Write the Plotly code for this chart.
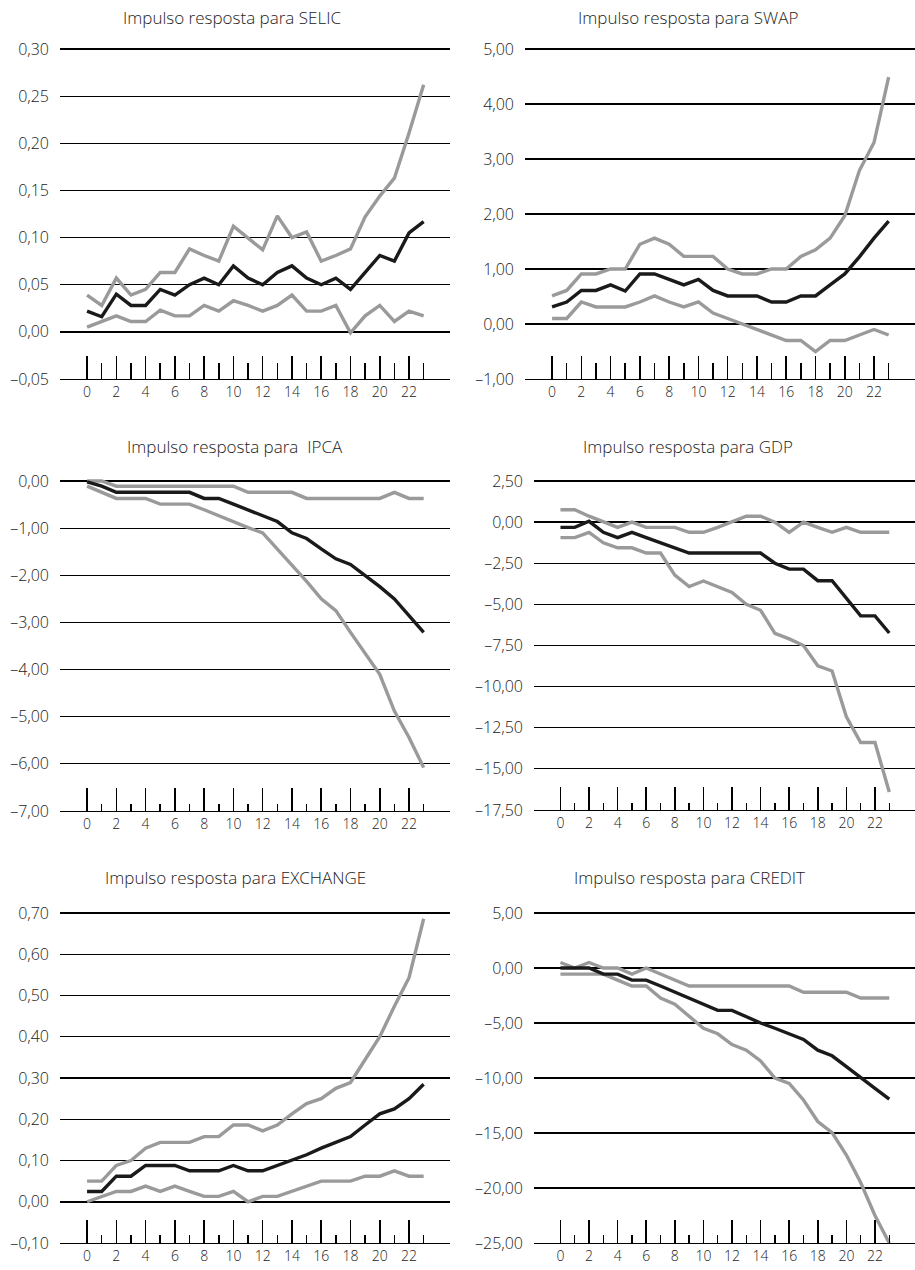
import plotly.graph_objects as go

periods = list(range(24))

# ---- SELIC ----
selic_mid = [0.022, 0.016, 0.040, 0.028, 0.028, 0.045, 0.039, 0.050, 0.057, 0.050, 0.070, 0.057,
             0.050, 0.063, 0.070, 0.057, 0.050, 0.057, 0.045, 0.063, 0.081, 0.075, 0.105, 0.117]
selic_up = [0.039, 0.028, 0.057, 0.039, 0.045, 0.063, 0.063, 0.088, 0.081, 0.075, 0.112, 0.100,
            0.087, 0.123, 0.100, 0.106, 0.075, 0.081, 0.088, 0.122, 0.144, 0.163, 0.211, 0.262]
selic_lo = [0.005, 0.011, 0.017, 0.011, 0.011, 0.023, 0.017, 0.017, 0.028, 0.022, 0.033, 0.028,
            0.022, 0.028, 0.039, 0.022, 0.022, 0.028, -0.001, 0.017, 0.028, 0.011, 0.022, 0.017]
selic_ticks = [-0.05, 0.0, 0.05, 0.10, 0.15, 0.20, 0.25, 0.30]
selic_ticktext = ["–0,05", "0,00", "0,05", "0,10", "0,15", "0,20", "0,25", "0,30"]

# ---- SWAP ----
swap_mid = [0.31, 0.40, 0.61, 0.61, 0.71, 0.60, 0.91, 0.91, 0.81, 0.71, 0.81, 0.61,
            0.51, 0.51, 0.51, 0.40, 0.40, 0.51, 0.51, 0.71, 0.91, 1.22, 1.56, 1.87]
swap_up = [0.51, 0.61, 0.91, 0.91, 1.00, 1.00, 1.45, 1.56, 1.45, 1.23, 1.23, 1.23,
           1.00, 0.91, 0.91, 1.00, 1.00, 1.23, 1.35, 1.56, 1.97, 2.79, 3.30, 4.49]
swap_lo = [0.10, 0.10, 0.40, 0.31, 0.31, 0.31, 0.40, 0.51, 0.40, 0.31, 0.40, 0.20,
           0.10, 0.00, -0.10, -0.20, -0.30, -0.30, -0.50, -0.30, -0.30, -0.20, -0.10, -0.20]
swap_ticks = [-1, 0, 1, 2, 3, 4, 5]
swap_ticktext = ["–1,00", "0,00", "1,00", "2,00", "3,00", "4,00", "5,00"]

# ---- IPCA ----
ipca_mid = [-0.02, -0.11, -0.24, -0.24, -0.24, -0.24, -0.24, -0.24, -0.37, -0.37, -0.49, -0.61,
            -0.74, -0.86, -1.10, -1.22, -1.44, -1.65, -1.77, -2.00, -2.24, -2.50, -2.86, -3.21]
ipca_up = [0.0, 0.0, -0.11, -0.11, -0.11, -0.11, -0.11, -0.11, -0.11, -0.11, -0.11, -0.24,
           -0.24, -0.24, -0.24, -0.37, -0.37, -0.37, -0.37, -0.37, -0.37, -0.24, -0.37, -0.37]
ipca_lo = [-0.11, -0.24, -0.37, -0.37, -0.37, -0.49, -0.49, -0.49, -0.61, -0.74, -0.86, -0.99,
           -1.10, -1.44, -1.77, -2.13, -2.50, -2.75, -3.21, -3.65, -4.10, -4.88, -5.44, -6.08]
ipca_ticks = [-7, -6, -5, -4, -3, -2, -1, 0]
ipca_ticktext = ["–7,00", "–6,00", "–5,00", "–4,00", "–3,00", "–2,00", "–1,00", "0,00"]

# ---- GDP ----
gdp_mid = [-0.32, -0.32, 0.05, -0.62, -0.94, -0.62, -0.94, -1.26, -1.56, -1.88, -1.88, -1.88,
           -1.88, -1.88, -1.88, -2.50, -2.86, -2.86, -3.56, -3.56, -4.62, -5.70, -5.70, -6.74]
gdp_up = [0.75, 0.75, 0.36, 0.0, -0.32, 0.0, -0.32, -0.32, -0.32, -0.62, -0.62, -0.32,
          0.0, 0.36, 0.36, 0.0, -0.62, 0.0, -0.32, -0.62, -0.32, -0.62, -0.62, -0.62]
gdp_lo = [-0.94, -0.94, -0.62, -1.26, -1.56, -1.56, -1.88, -1.88, -3.22, -3.92, -3.58, -3.92,
          -4.28, -5.00, -5.36, -6.76, -7.10, -7.50, -8.73, -9.05, -11.83, -13.40, -13.40, -16.40]
gdp_ticks = [-17.5, -15, -12.5, -10, -7.5, -5, -2.5, 0, 2.5]
gdp_ticktext = ["–17,50", "–15,00", "–12,50", "–10,00", "–7,50", "–5,00", "–2,50", "0,00", "2,50"]

# ---- EXCHANGE ----
exch_mid = [0.025, 0.025, 0.062, 0.062, 0.088, 0.088, 0.088, 0.075, 0.075, 0.075, 0.088, 0.075,
            0.075, 0.088, 0.100, 0.114, 0.130, 0.144, 0.158, 0.186, 0.213, 0.225, 0.250, 0.285]
exch_up = [0.050, 0.050, 0.088, 0.100, 0.130, 0.144, 0.144, 0.144, 0.158, 0.158, 0.186, 0.186,
           0.172, 0.186, 0.213, 0.238, 0.250, 0.275, 0.289, 0.343, 0.400, 0.474, 0.543, 0.686]
exch_lo = [0.0, 0.013, 0.025, 0.025, 0.038, 0.025, 0.038, 0.025, 0.013, 0.013, 0.025, 0.0,
           0.013, 0.013, 0.025, 0.038, 0.050, 0.050, 0.050, 0.062, 0.062, 0.075, 0.062, 0.062]
exch_ticks = [-0.1, 0.0, 0.1, 0.2, 0.3, 0.4, 0.5, 0.6, 0.7]
exch_ticktext = ["–0,10", "0,00", "0,10", "0,20", "0,30", "0,40", "0,50", "0,60", "0,70"]

# ---- CREDIT ----
credit_mid = [0.0, 0.0, 0.0, -0.56, -0.56, -1.10, -1.10, -1.64, -2.20, -2.73, -3.29, -3.85,
              -3.85, -4.44, -5.00, -5.48, -5.98, -6.49, -7.47, -7.98, -8.96, -10.00, -10.95, -11.93]
credit_up = [0.50, 0.0, 0.50, 0.0, 0.0, -0.56, 0.0, -0.56, -1.10, -1.64, -1.64, -1.64,
             -1.64, -1.64, -1.64, -1.64, -1.64, -2.20, -2.20, -2.20, -2.20, -2.73, -2.73, -2.73]
credit_lo = [-0.56, -0.56, -0.56, -0.56, -1.10, -1.64, -1.64, -2.73, -3.29, -4.38, -5.48, -5.98,
             -6.96, -7.47, -8.45, -10.00, -10.50, -12.00, -13.96, -14.97, -17.00, -19.50, -22.50, -25.00]
credit_ticks = [-25, -20, -15, -10, -5, 0, 5]
credit_ticktext = ["–25,00", "–20,00", "–15,00", "–10,00", "–5,00", "0,00", "5,00"]

titles = ["Impulso resposta para SELIC", "Impulso resposta para SWAP",
          "Impulso resposta para  IPCA", "Impulso resposta para GDP",
          "Impulso resposta para EXCHANGE", "Impulso resposta para CREDIT"]

x_major = list(range(0, 24, 2))
x_major_text = [str(v) for v in x_major]
x_minor = list(range(1, 24, 2))

panels = [
    (selic_up, selic_lo, selic_mid, selic_ticks, selic_ticktext),
    (swap_up, swap_lo, swap_mid, swap_ticks, swap_ticktext),
    (ipca_up, ipca_lo, ipca_mid, ipca_ticks, ipca_ticktext),
    (gdp_up, gdp_lo, gdp_mid, gdp_ticks, gdp_ticktext),
    (exch_up, exch_lo, exch_mid, exch_ticks, exch_ticktext),
    (credit_up, credit_lo, credit_mid, credit_ticks, credit_ticktext),
]

W, H = 915, 1270
# layout in pixels (plot area left, right, top, bottom), title centre, minor tick length
boxes = [
    (60, 450, 49, 379, 232, 17, 16),
    (525, 915, 49, 379, 688, 17, 16),
    (60, 450, 481, 811, 235, 447, 7),
    (534, 915, 481, 810, 688, 447, 7),
    (60, 450, 913, 1243, 235, 878, 8),
    (534, 915, 913, 1243, 689, 878, 8),
]
TOP_PAD_PX = 3.0  # headroom so the top gridline is not dropped at the plot edge

GRAY = "#9a9a9a"
BLACK = "#1a1a1a"
FONT = "Open Sans, Noto Sans, DejaVu Sans, sans-serif"
TXT = "#222222"

fig = go.Figure()
layout = dict(
    template="none",
    width=W, height=H, margin=dict(l=0, r=0, t=0, b=0, pad=0, autoexpand=False),
    paper_bgcolor="white", plot_bgcolor="white", showlegend=False,
    font=dict(family=FONT, color=TXT, weight=300),
    annotations=[],
)

for i, (up, lo, mid, yt, ytt) in enumerate(panels, start=1):
    xl, xr, yt_px, yb_px, tx, ty, minlen = boxes[i - 1]
    xa = "x" if i == 1 else f"x{i}"
    ya = "y" if i == 1 else f"y{i}"
    for series, col in ((up, GRAY), (lo, GRAY), (mid, BLACK)):
        fig.add_trace(go.Scatter(x=periods, y=series, mode="lines", xaxis=xa, yaxis=ya,
                                 line=dict(color=col, width=3.4), hoverinfo="skip"))
    span = yt[-1] - yt[0]
    per_px = span / (yb_px - yt_px)
    layout[f"xaxis{'' if i == 1 else i}"] = dict(
        domain=[xl / W, xr / W], anchor=ya, range=[-1.85, 24.8], automargin=False,
        tickmode="array", tickvals=x_major, ticktext=x_major_text,
        ticks="inside", ticklen=23, tickwidth=1.5, tickcolor="black",
        showline=True, linecolor="black", linewidth=1.3,
        showgrid=False, zeroline=False, fixedrange=True,
        tickfont=dict(size=14, color=TXT, family=FONT, weight=300), ticklabelstandoff=0,
        minor=dict(tickmode="array", tickvals=x_minor, ticks="inside", ticklen=minlen,
                   tickwidth=1.5, tickcolor="black", showgrid=False),
    )
    layout[f"yaxis{'' if i == 1 else i}"] = dict(
        domain=[1 - yb_px / H, 1 - (yt_px - TOP_PAD_PX) / H], anchor=xa,
        range=[yt[0], yt[-1] + TOP_PAD_PX * per_px], automargin=False,
        tickmode="array", tickvals=yt, ticktext=ytt,
        showgrid=True, gridcolor="black", gridwidth=1.2,
        zeroline=True, zerolinecolor="black", zerolinewidth=2.2,
        showline=False, ticks="", fixedrange=True,
        tickfont=dict(size=16, color=TXT, family=FONT, weight=300), ticklabelstandoff=10,
    )
    layout["annotations"].append(dict(
        text=titles[i - 1], xref="paper", yref="paper", x=tx / W, y=1 - ty / H,
        xanchor="center", yanchor="middle", showarrow=False,
        font=dict(size=17, color=TXT, family=FONT, weight=300)))

fig.update_layout(**layout)
fig.write_html("out.html", config={"displayModeBar": False, "staticPlot": True},
               post_script="document.body.style.margin='0';document.body.style.padding='0';")
